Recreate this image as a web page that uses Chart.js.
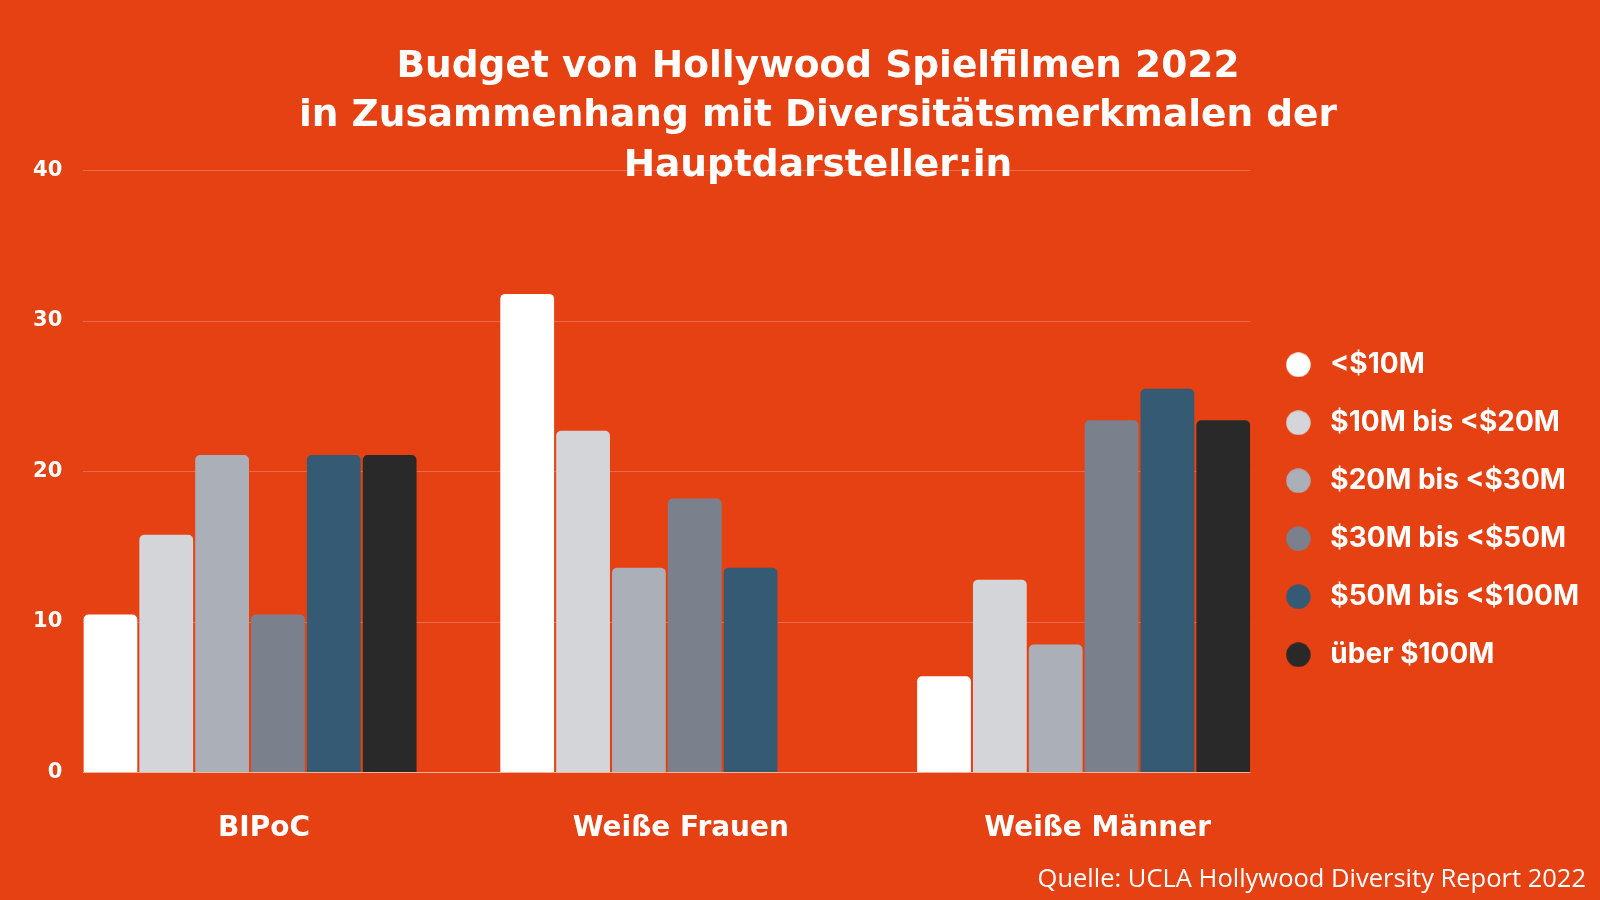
<!DOCTYPE html>
<html lang="de">
<head>
<meta charset="utf-8">
<title>Budget von Hollywood Spielfilmen 2022</title>
<script src="https://cdn.jsdelivr.net/npm/chart.js@4"></script>
<style>
    html, body { margin: 0; padding: 0; background: #e64112; overflow: hidden; }
    #wrap { position: relative; width: 1600px; height: 900px; background: #e64112; }
    #budgetChart { position: absolute; left: 0; top: 0; }
    #title {
        position: absolute; left: 118px; top: 39.5px; width: 1400px;
        text-align: center; color: #fff;
        font-family: 'DejaVu Sans', sans-serif; font-weight: bold;
        font-size: 37.5px; line-height: 49.5px;
    }
    #source {
        position: absolute; right: 14px; top: 862px;
        color: #fff; font-family: 'Open Sans', sans-serif;
        font-size: 25.5px; line-height: 30px;
    }
</style>
</head>
<body>
<div id="wrap">
    <canvas id="budgetChart" width="1600" height="900"></canvas>
    <div id="title">Budget von Hollywood Spielfilmen 2022<br>in Zusammenhang mit Diversitätsmerkmalen der<br>Hauptdarsteller:in</div>
    <div id="source">Quelle: UCLA Hollywood Diversity Report 2022</div>
</div>
<script>
// Gruppen (x-Achse) und Budgetklassen (Datensätze), Werte in %
const groupLabels = ['BIPoC', 'Weiße Frauen', 'Weiße Männer'];
const budgetClasses = ['<$10M', '$10M bis <$20M', '$20M bis <$30M', '$30M bis <$50M', '$50M bis <$100M', 'über $100M'];
const under10 = [10.5, 31.8, 6.4];
const from10to20 = [15.8, 22.7, 12.8];
const from20to30 = [21.1, 13.6, 8.5];
const from30to50 = [10.5, 18.2, 23.4];
const from50to100 = [21.1, 13.6, 25.5];
const over100 = [21.1, 0, 23.4];
const yTicks = [0, 10, 20, 30, 40];

const seriesValues = [under10, from10to20, from20to30, from30to50, from50to100, over100];
const seriesColors = ['#ffffff', '#d3d5d9', '#abafb7', '#7b818c', '#355a74', '#292929'];

// round legend marker, drawn once per colour
function dot(color) {
    const c = document.createElement('canvas');
    c.width = 25;
    c.height = 25;
    const g = c.getContext('2d');
    g.fillStyle = color;
    g.beginPath();
    g.arc(12.5, 12.5, 12.2, 0, Math.PI * 2);
    g.fill();
    return c;
}

const wideFont = 'DejaVu Sans';

new Chart(document.getElementById('budgetChart'), {
    type: 'bar',
    data: {
        datasets: budgetClasses.map((label, i) => ({
            label: label,
            data: seriesValues[i].map((v, j) => ({ x: j, y: v })),
            backgroundColor: seriesColors[i],
            borderWidth: 0,
            borderRadius: 5,
            categoryPercentage: 0.804,
            barPercentage: 0.963
        }))
    },
    options: {
        responsive: false,
        animation: false,
        layout: { padding: { top: 170.5, left: 0, right: 11, bottom: 51.1 } },
        plugins: {
            tooltip: { enabled: false },
            legend: {
                position: 'right',
                align: 'center',
                labels: {
                    color: '#ffffff',
                    font: { family: 'Inter', weight: 'bold', size: 28 },
                    padding: 30,
                    usePointStyle: true,
                    pointStyleWidth: 36,
                    generateLabels: chart => Chart.defaults.plugins.legend.labels.generateLabels(chart)
                        .map((item, i) => Object.assign(item, { pointStyle: dot(seriesColors[i]) }))
                }
            }
        },
        scales: {
            x: {
                type: 'linear',
                min: -0.4,
                max: 2.4,
                offset: false,
                afterBuildTicks: scale => { scale.ticks = groupLabels.map((_, i) => ({ value: i })); },
                afterFit: scale => { scale.height = 76.4; },
                grid: { display: false },
                border: { display: false },
                ticks: {
                    callback: v => groupLabels[v],
                    color: '#ffffff',
                    font: { family: wideFont, weight: 'bold', size: 28 },
                    padding: 31,
                    labelOffset: 14,
                    maxRotation: 0,
                    autoSkip: false
                }
            },
            y: {
                min: 0,
                max: 40,
                afterBuildTicks: scale => { scale.ticks = yTicks.map(v => ({ value: v })); },
                afterFit: scale => { scale.width = 83.3; },
                grid: {
                    drawTicks: false,
                    color: ctx => ctx.tick.value === 0 ? 'rgba(255,255,255,0.6)' : 'rgba(255,255,255,0.22)'
                },
                border: { display: false },
                ticks: {
                    color: '#ffffff',
                    font: { family: wideFont, weight: 'bold', size: 21 },
                    padding: 21
                }
            }
        }
    }
});
</script>
</body>
</html>
